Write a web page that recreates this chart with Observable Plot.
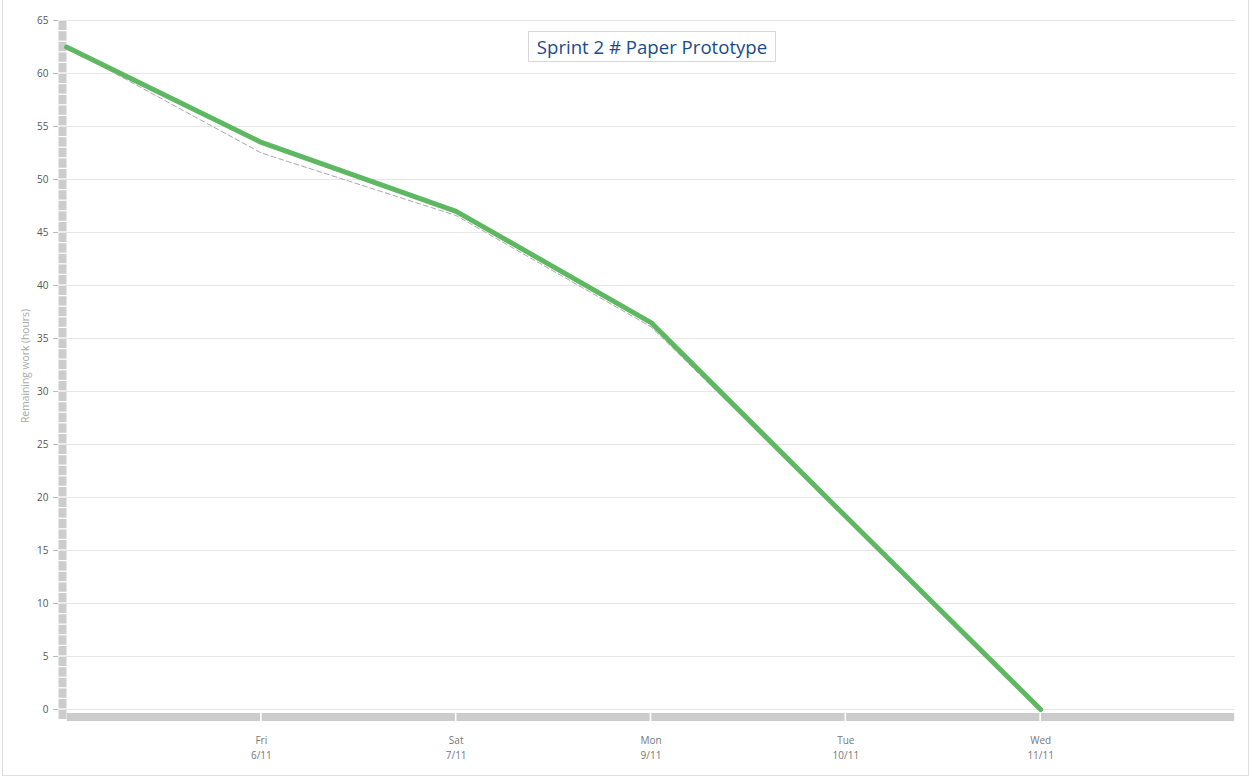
<!DOCTYPE html>
<html>
<head>
<meta charset="utf-8">
<script src="https://cdn.jsdelivr.net/npm/d3@7"></script>
<script src="https://cdn.jsdelivr.net/npm/@observablehq/plot@0.6"></script>
<style>
  html, body { margin: 0; padding: 0; background: #fff; }
  body { width: 1252px; height: 783px; position: relative; overflow: hidden; font-family: "Open Sans", sans-serif; }
  #frame { position: absolute; left: 2px; top: -1px; width: 1247px; height: 777px; border: 1px solid #dedede; box-sizing: border-box; pointer-events: none; }
  #chart { position: absolute; left: 0; top: 0; }
  #title { position: absolute; left: 528px; top: 31px; width: 248px; height: 31px; box-sizing: border-box; border: 1px solid #d8d8d8; background: #fff;
           color: #1a4c8c; font-family: "Open Sans", sans-serif; font-size: 18.6px; line-height: 29px; text-align: center; }
  #ylabel { position: absolute; left: 25px; top: 366px; transform: translate(-50%, -50%) rotate(-90deg); white-space: nowrap;
            color: #aaaaaa; font-size: 10.3px; font-family: "Open Sans", sans-serif; }
</style>
</head>
<body>
<div id="chart"></div>
<div id="frame"></div>
<div id="title">Sprint 2 # Paper Prototype</div>
<div id="ylabel">Remaining work (hours)</div>
<script>
// Categories (day slots); first and last are unlabeled edge slots
const days = ["Thu 5/11", "Fri 6/11", "Sat 7/11", "Mon 9/11", "Tue 10/11", "Wed 11/11", "Thu 12/11"];
const labeledDays = ["Fri 6/11", "Sat 7/11", "Mon 9/11", "Tue 10/11", "Wed 11/11"];
// Remaining work (green, thick)
const remainingDays = ["Thu 5/11", "Fri 6/11", "Sat 7/11", "Mon 9/11", "Tue 10/11", "Wed 11/11"];
const remainingValues = [62.5, 53.5, 47.0, 36.5, 18.2, 0];
// Secondary dashed series (gray)
const dashedValues = [62.5, 52.5, 46.6, 36.1, 18.1, 0];
// Y ticks
const yTicks = [0, 5, 10, 15, 20, 25, 30, 35, 40, 45, 50, 55, 60, 65];
const yMax = 65;

const remaining = remainingDays.map((d, i) => ({day: d, value: remainingValues[i]}));
const dashed = remainingDays.map((d, i) => ({day: d, value: dashedValues[i]}));
// ruler segments for the left axis bar (one per unit, plus the corner below 0)
const rulerUnits = d3.range(-1, yMax);
// segments for the bottom axis bar (between consecutive day slots)
const bottomSegs = days.slice(0, -1).map((d, i) => ({a: d, b: days[i + 1]}));

const chart = Plot.plot({
  width: 1252,
  height: 783,
  marginLeft: 66,
  marginRight: 17,
  marginTop: 20,
  marginBottom: 74,
  style: {fontFamily: "'Open Sans', sans-serif", fontSize: "10px", background: "transparent"},
  x: {type: "point", domain: days, padding: 0, round: false},
  y: {domain: [0, yMax]},
  marks: [
    Plot.gridY(yTicks, {stroke: "#e6e6e6", strokeOpacity: 1, strokeWidth: 1}),
    // left ruler bar
    Plot.ruleX(rulerUnits, {x: () => days[0], y1: d => d + 1, y2: d => d, stroke: "#cccccc", strokeWidth: 8, dx: -4,
      insetTop: 0.6, insetBottom: 0.6, strokeLinecap: "butt"}),
    // bottom bar
    Plot.ruleY(bottomSegs, {y: () => 0, x1: "a", x2: "b", stroke: "#cccccc", strokeWidth: 8, dy: 7.5, insetLeft: 0.8, insetRight: 0.8}),
    Plot.axisY(yTicks, {dx: -8, tickSize: 5, tickPadding: 5, stroke: "#bbbbbb", color: "#555555", fill: "#555555", label: null}),
    Plot.axisX(labeledDays, {tickSize: 0, tickPadding: 24, fill: "#777777", label: null, lineHeight: 1.5,
      tickFormat: d => d.replace(" ", "\n")}),
    Plot.line(dashed, {x: "day", y: "value", stroke: "#aaaaaa", strokeWidth: 1, strokeDasharray: "5,3"}),
    Plot.line(remaining, {x: "day", y: "value", stroke: "#5eb862", strokeWidth: 5, strokeLinejoin: "round"})
  ]
});
document.getElementById("chart").appendChild(chart);
</script>
</body>
</html>
